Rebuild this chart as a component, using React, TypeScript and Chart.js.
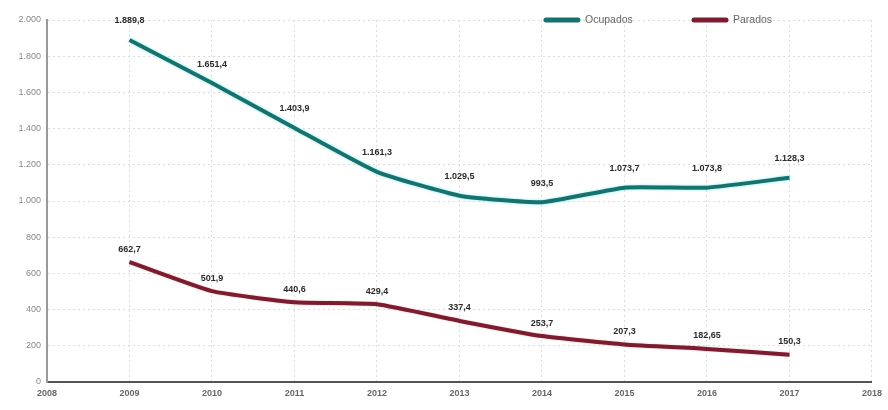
import React, { useEffect, useRef } from "react";
import { Chart, registerables } from "chart.js";

Chart.register(...registerables);

const years = [2009, 2010, 2011, 2012, 2013, 2014, 2015, 2016, 2017];
const ocupados = [1889.8, 1651.4, 1403.9, 1161.3, 1029.5, 993.5, 1073.7, 1073.8, 1128.3];
const parados = [662.7, 501.9, 440.6, 429.4, 337.4, 253.7, 207.3, 182.65, 150.3];
const ocupadosLabels = ["1.889,8", "1.651,4", "1.403,9", "1.161,3", "1.029,5", "993,5", "1.073,7", "1.073,8", "1.128,3"];
const paradosLabels = ["662,7", "501,9", "440,6", "429,4", "337,4", "253,7", "207,3", "182,65", "150,3"];
const seriesNames = ["Ocupados", "Parados"];
const xMin = 2008;
const xMax = 2018;
const yMax = 2000;

const TEAL = "#17716f";
const MAROON = "#7a1d2e";

const fmtThousands = (v: number) => {
  const s = String(Math.round(v));
  return s.replace(/\B(?=(\d{3})+(?!\d))/g, ".");
};

const glowPlugin = {
  id: "glow",
  beforeDatasetDraw(chart: any, args: any) {
    const ctx = chart.ctx;
    ctx.save();
    if (args.index === 0) {
      ctx.shadowColor = "rgba(110,235,235,0.85)";
      ctx.shadowBlur = 3;
    } else {
      ctx.shadowColor = "rgba(240,140,150,0.6)";
      ctx.shadowBlur = 2;
    }
  },
  afterDatasetDraw(chart: any) {
    chart.ctx.restore();
  },
};

const labelPlugin = {
  id: "valueLabels",
  afterDatasetsDraw(chart: any) {
    const ctx = chart.ctx;
    const sets = [
      { idx: 0, labels: ocupadosLabels, off: 19 },
      { idx: 1, labels: paradosLabels, off: 13 },
    ];
    ctx.save();
    ctx.font = "600 9px Arial, 'Liberation Sans', sans-serif";
    ctx.fillStyle = "#2b2b2b";
    ctx.textAlign = "center";
    ctx.textBaseline = "middle";
    for (const s of sets) {
      const meta = chart.getDatasetMeta(s.idx);
      meta.data.forEach((pt: any, i: number) => {
        ctx.fillText(s.labels[i], pt.x, pt.y - s.off);
      });
    }
    ctx.restore();
  },
};

const legendPlugin = {
  id: "overlayLegend",
  afterDraw(chart: any) {
    const ctx = chart.ctx;
    const area = chart.chartArea;
    const y = area.top;
    const items = [
      { name: seriesNames[0], color: TEAL, x: area.right - 326 },
      { name: seriesNames[1], color: MAROON, x: area.right - 178 },
    ];
    ctx.save();
    ctx.font = "10.5px Arial, 'Liberation Sans', sans-serif";
    ctx.textBaseline = "middle";
    ctx.textAlign = "left";
    for (const it of items) {
      ctx.strokeStyle = it.color;
      ctx.lineWidth = 5;
      ctx.lineCap = "round";
      ctx.beginPath();
      ctx.moveTo(it.x, y);
      ctx.lineTo(it.x + 32, y);
      ctx.stroke();
      ctx.fillStyle = "#666";
      ctx.fillText(it.name, it.x + 39, y);
    }
    ctx.restore();
  },
};

export default function App() {
  const ref = useRef<HTMLCanvasElement | null>(null);
  useEffect(() => {
    if (!ref.current) return;
    const chart = new Chart(ref.current, {
      type: "line",
      data: {
        datasets: [
          {
            label: seriesNames[0],
            data: years.map((x, i) => ({ x, y: ocupados[i] })),
            borderColor: TEAL,
            borderWidth: 4,
            pointRadius: 0,
            tension: 0.15,
            fill: false,
          },
          {
            label: seriesNames[1],
            data: years.map((x, i) => ({ x, y: parados[i] })),
            borderColor: MAROON,
            borderWidth: 4,
            pointRadius: 0,
            tension: 0.15,
            fill: false,
          },
        ],
      },
      options: {
        animation: false,
        responsive: false,
        layout: { padding: { top: 20, right: 10, left: 0, bottom: 0 } },
        plugins: { legend: { display: false }, tooltip: { enabled: false } },
        scales: {
          x: {
            type: "linear",
            min: xMin,
            max: xMax,
            afterFit: (s: any) => {
              s.height = 28;
            },
            ticks: {
              stepSize: 1,
              autoSkip: false,
              maxRotation: 0,
              color: "#666",
              font: { size: 9, weight: "bold", family: "Arial, 'Liberation Sans', sans-serif" },
              callback: (v: any) => String(v),
              padding: 6,
            },
            grid: {
              color: "#dcdcdc",
              lineWidth: 1,
              drawTicks: false,
            },
            border: { display: true, color: "#555", width: 2, dash: [2, 3] as any },
          },
          y: {
            min: 0,
            max: yMax,
            afterFit: (s: any) => {
              s.width = 47;
            },
            ticks: {
              stepSize: 200,
              color: "#888",
              font: { size: 9, family: "Arial, 'Liberation Sans', sans-serif" },
              callback: (v: any) => fmtThousands(Number(v)),
              padding: 6,
            },
            grid: {
              color: "#dcdcdc",
              lineWidth: 1,
              drawTicks: false,
            },
            border: { display: true, color: "#999", width: 2, dash: [2, 3] as any },
          },
        },
      } as any,
      plugins: [glowPlugin, labelPlugin, legendPlugin],
    });
    return () => chart.destroy();
  }, []);
  return (
    <div style={{ position: "absolute", left: 0, top: 0, width: 888, height: 410, background: "#fff" }}>
      <canvas ref={ref} width={888} height={410} style={{ display: "block" }} />
    </div>
  );
}
